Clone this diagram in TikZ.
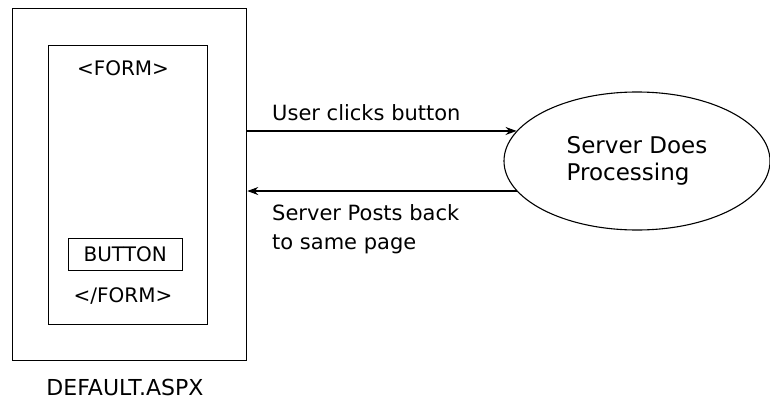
\documentclass[tikz,border=0pt]{standalone}
\usepackage{fontspec}
\setmainfont{DejaVu Sans}
\usetikzlibrary{shapes.geometric,arrows.meta}
\tikzset{
  box/.style={draw,line width=1.1pt,inner sep=0pt},
  lbl/.style={inner sep=0pt,font=\fontsize{21}{29}\selectfont},
  flow/.style={line width=1.1pt,-{Stealth[length=11pt,width=8pt]}}
}
\begin{document}
\begin{tikzpicture}[x=1pt,y=1pt]
\useasboundingbox (0,0) rectangle (770,400);
% the page and its form
\node[box,minimum width=234.4pt,minimum height=351.7pt] (page) at (129.5,215.8) {};
\node[box,minimum width=159pt,minimum height=278.7pt] (form) at (128.2,215.3) {};
\node[box,minimum width=113.7pt,minimum height=32.4pt,font=\fontsize{20}{24}\selectfont] (button) at (125.2,145.5) {BUTTON};
\node[lbl,anchor=base,font=\fontsize{20}{24}\selectfont] (formopen) at (123,324.7) {<FORM>};
\node[lbl,anchor=base,font=\fontsize{20}{24}\selectfont] (formclose) at (123,97.7) {</FORM>};
\node[lbl,anchor=base,font=\fontsize{22}{26}\selectfont] (pagename) at (125,5) {DEFAULT.ASPX};
% the server
\node[ellipse,draw,line width=1.1pt,minimum width=266pt,minimum height=138pt,inner sep=0pt,align=left,font=\fontsize{23}{27}\selectfont] (server) at (637,239) {Server Does\\Processing};
\draw[flow] (page.east |- server.166) -- (server.166);
\draw[flow] (server.194) -- (page.east |- server.194);
\node[lbl,anchor=base west] (click) at (272,279.5) {User clicks button};
\node[lbl,anchor=north west,align=left] (postback) at (272,195.5) {Server Posts back\\to same page};
\end{tikzpicture}
\end{document}
